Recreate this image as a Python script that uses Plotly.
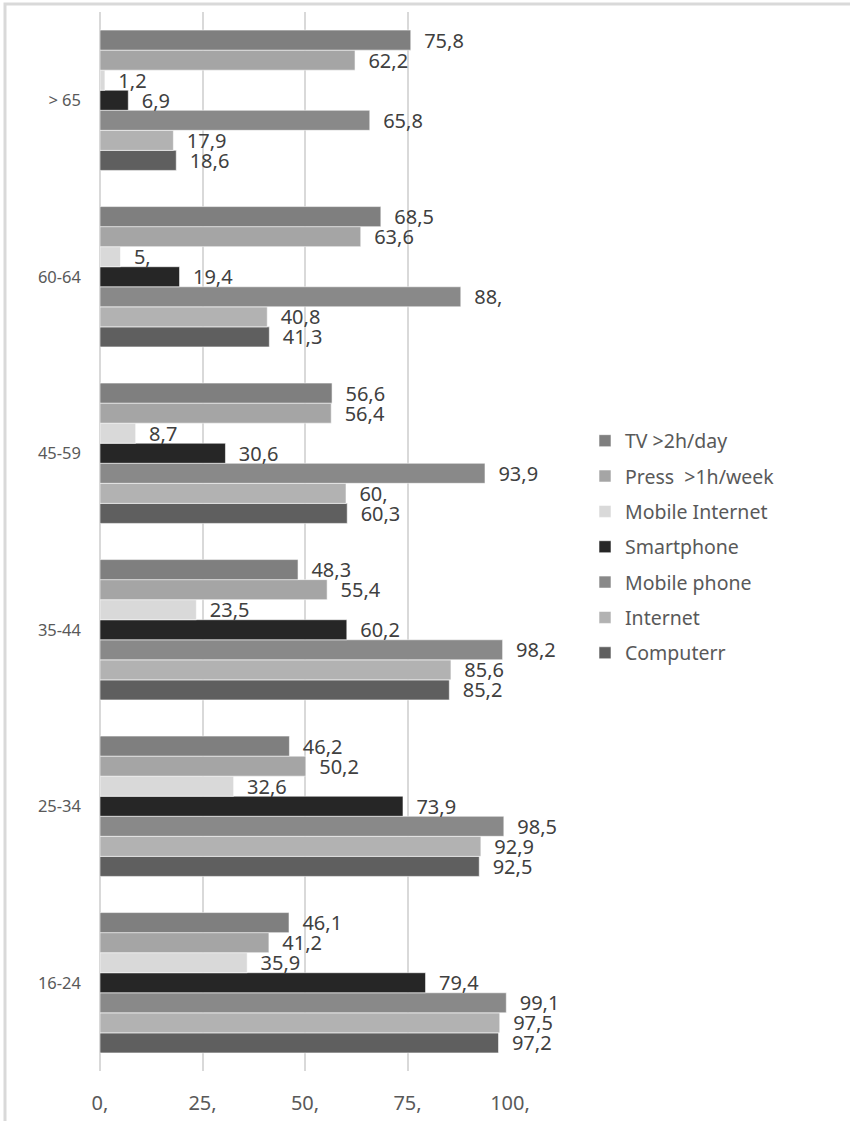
import plotly.graph_objects as go

# Age groups, listed bottom-to-top as they appear on the axis
age_groups = ["16-24", "25-34", "35-44", "45-59", "60-64", "> 65"]

# Share of people (%) per age group, one list per indicator
computerr = [97.2, 92.5, 85.2, 60.3, 41.3, 18.6]
internet = [97.5, 92.9, 85.6, 60.0, 40.8, 17.9]
mobile_phone = [99.1, 98.5, 98.2, 93.9, 88.0, 65.8]
smartphone = [79.4, 73.9, 60.2, 30.6, 19.4, 6.9]
mobile_internet = [35.9, 32.6, 23.5, 8.7, 5.0, 1.2]
press = [41.2, 50.2, 55.4, 56.4, 63.6, 62.2]
tv = [46.1, 46.2, 48.3, 56.6, 68.5, 75.8]

x_ticks = [0, 25, 50, 75, 100]
x_tick_labels = ["0,", "25,", "50,", "75,", "100,"]

series = [
    ("Computerr", computerr, "#5f5f5f"),
    ("Internet", internet, "#b2b2b2"),
    ("Mobile phone", mobile_phone, "#898989"),
    ("Smartphone", smartphone, "#262626"),
    ("Mobile Internet", mobile_internet, "#d9d9d9"),
    ("Press  >1h/week", press, "#a5a5a5"),
    ("TV >2h/day", tv, "#7f7f7f"),
]


def fmt(v):
    # decimal comma, trailing ",": 5.0 -> "5,", 75.8 -> "75,8"
    s = f"{v:.1f}".rstrip("0").replace(".", ",")
    return "\u00a0\u00a0" + s


W, H = 850, 1121
L, R, T, B = 100, 340, 12, 50
pw, ph = W - L - R, H - T - B

fig = go.Figure()
n = len(series)
for i, (name, vals, color) in enumerate(series):
    fig.add_trace(go.Bar(
        y=age_groups,
        x=vals,
        name=name,
        orientation="h",
        marker=dict(color=color, line=dict(color="rgba(255,255,255,0.7)", width=0.8)),
        text=[fmt(v) for v in vals],
        textposition="outside",
        textfont=dict(family="Noto Sans", size=20, color="#404040"),
        constraintext="none",
        cliponaxis=False,
        legendgroup=f"g{i}",
        legendrank=n - i,
        hoverinfo="skip",
    ))

# light frame along the top and left edges of the chart
fx = (5 - L) / pw
fy = 1 + (T - 4) / ph
fig.add_shape(type="rect", xref="paper", yref="paper", layer="above",
              x0=fx, x1=(W + 20 - L) / pw, y0=-(B + 20) / ph, y1=fy,
              line=dict(color="#d9d9d9", width=3), fillcolor="rgba(0,0,0,0)")

fig.update_layout(
    width=W, height=H,
    margin=dict(l=L, r=R, t=T, b=B, pad=0, autoexpand=False),
    paper_bgcolor="white",
    plot_bgcolor="white",
    barmode="group",
    bargap=0.205,
    bargroupgap=0,
    showlegend=True,
    legend=dict(
        x=(585 - L) / pw, xanchor="left",
        y=1 - (547 - T) / ph, yanchor="middle",
        traceorder="grouped",
        tracegroupgap=7,
        font=dict(family="Noto Sans", size=19.5, color="#595959"),
        bgcolor="rgba(0,0,0,0)",
    ),
    xaxis=dict(
        range=[0, 100],
        tickvals=x_ticks,
        ticktext=x_tick_labels,
        showgrid=True,
        gridcolor="#d9d9d9",
        gridwidth=2,
        zeroline=True,
        zerolinecolor="#d9d9d9",
        zerolinewidth=2,
        showline=False,
        ticks="",
        ticklabelstandoff=18,
        automargin=False,
        tickfont=dict(family="Noto Sans", size=20, color="#595959"),
        fixedrange=True,
    ),
    yaxis=dict(
        categoryorder="array",
        categoryarray=age_groups,
        showgrid=False,
        zeroline=False,
        showline=False,
        ticks="",
        ticklabelstandoff=18,
        automargin=False,
        tickfont=dict(family="Noto Sans", size=16.5, color="#595959"),
        fixedrange=True,
    ),
)

fig.write_html("out.html")
